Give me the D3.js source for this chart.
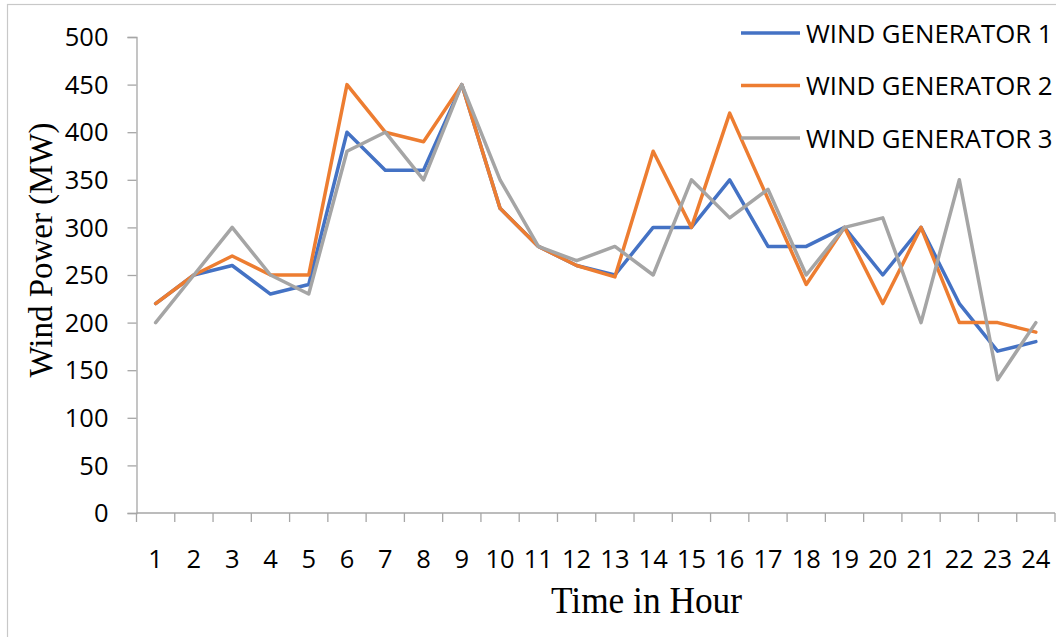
<!DOCTYPE html>
<html>
<head>
<meta charset="utf-8">
<script src="https://cdn.jsdelivr.net/npm/d3@7"></script>
<style>
	body { margin: 0; background: #fff; }
	svg { display: block; }
</style>
</head>
<body>
<svg id="chart" width="1056" height="637"></svg>
<script>
const hours = d3.range(1, 25)
const yTicks = [0, 50, 100, 150, 200, 250, 300, 350, 400, 450, 500]

const gen1 = [220, 250, 260, 230, 240, 400, 360, 360, 450, 320, 280, 260, 250, 300, 300, 350, 280, 280, 300, 250, 300, 220, 170, 180]
const gen2 = [220, 250, 270, 250, 250, 450, 400, 390, 450, 320, 280, 260, 248, 380, 300, 420, 330, 240, 300, 220, 300, 200, 200, 190]
const gen3 = [200, 250, 300, 250, 230, 380, 400, 350, 450, 350, 280, 265, 280, 250, 350, 310, 340, 250, 300, 310, 200, 350, 140, 200]

const seriesNames = ["WIND GENERATOR 1", "WIND GENERATOR 2", "WIND GENERATOR 3"]
const seriesColors = ["#4472C4", "#ED7D31", "#A5A5A5"]

const series = [gen1, gen2, gen3].map((vals, i) => ({
	name: seriesNames[i],
	color: seriesColors[i],
	values: vals.map((v, j) => ({ hour: hours[j], value: v }))
}))

const svg = d3.select("#chart")

// outer frame of the chart area (runs off the right edge)
svg.append("rect")
	.attr("x", 7.5).attr("y", 4.5)
	.attr("width", 1100).attr("height", 700)
	.attr("fill", "none")
	.attr("stroke", "#c8c8c8")
	.attr("stroke-width", 1.2)

const x = d3.scaleBand().domain(hours).range([136.5, 1055]).paddingInner(0).paddingOuter(0)
const y = d3.scaleLinear().domain([0, 500]).range([513, 37])

const axisColor = "#a6a6a6"
const tickFont = 25.5

// y axis
const yAxis = svg.append("g")
	.attr("transform", "translate(136.5,0)")
	.call(d3.axisLeft(y).tickValues(yTicks).tickSize(9).tickPadding(19))
yAxis.select(".domain").attr("stroke", axisColor).attr("stroke-width", 1.3)
yAxis.selectAll(".tick line").attr("stroke", axisColor).attr("stroke-width", 1.3)
yAxis.selectAll(".tick text")
	.attr("font-family", "'Open Sans', sans-serif")
	.attr("font-size", tickFont)
	.attr("fill", "#000")
	.attr("dy", "0.34em")

// x axis: ticks sit on the band boundaries, labels in the band centres
const xAxis = svg.append("g").attr("transform", "translate(0,513)")
xAxis.append("line")
	.attr("x1", x.range()[0]).attr("x2", x.range()[1])
	.attr("stroke", axisColor).attr("stroke-width", 1.3)
xAxis.selectAll("line.tick")
	.data(hours.concat([null]))
	.join("line")
		.classed("tick", true)
		.attr("x1", d => d === null ? x.range()[1] : x(d))
		.attr("x2", d => d === null ? x.range()[1] : x(d))
		.attr("y1", 0).attr("y2", 9)
		.attr("stroke", axisColor).attr("stroke-width", 1.3)
xAxis.selectAll("text")
	.data(hours)
	.join("text")
		.attr("x", d => x(d) + x.bandwidth() / 2)
		.attr("y", 55)
		.attr("text-anchor", "middle")
		.attr("font-family", "'Open Sans', sans-serif")
		.attr("font-size", tickFont)
		.attr("fill", "#000")
		.text(d => d)

// axis titles
svg.append("text")
	.attr("transform", "translate(52,250) rotate(-90)")
	.attr("text-anchor", "middle")
	.attr("font-family", "'Liberation Serif', 'Times New Roman', serif")
	.attr("font-size", 34)
	.attr("textLength", 255)
	.attr("lengthAdjust", "spacingAndGlyphs")
	.text("Wind Power (MW)")

svg.append("text")
	.attr("x", 646.5).attr("y", 613)
	.attr("text-anchor", "middle")
	.attr("font-family", "'Liberation Serif', 'Times New Roman', serif")
	.attr("font-size", 38)
	.attr("textLength", 191)
	.attr("lengthAdjust", "spacingAndGlyphs")
	.text("Time in Hour")

// lines
const line = d3.line()
	.x(d => x(d.hour) + x.bandwidth() / 2)
	.y(d => y(d.value))

svg.append("g")
	.selectAll("path")
	.data(series)
	.join("path")
		.attr("d", s => line(s.values))
		.attr("fill", "none")
		.attr("stroke", s => s.color)
		.attr("stroke-width", 3.5)
		.attr("stroke-linejoin", "round")
		.attr("stroke-linecap", "round")

// legend
const legend = svg.append("g")
	.selectAll("g")
	.data(series)
	.join("g")
		.attr("transform", (s, i) => `translate(741,${33 + i * 52.5})`)
legend.append("line")
	.attr("x1", 0).attr("x2", 59)
	.attr("stroke", s => s.color)
	.attr("stroke-width", 3.5)
legend.append("text")
	.attr("x", 65).attr("y", 9.5)
	.attr("font-family", "'Open Sans', sans-serif")
	.attr("font-size", 25.8)
	.attr("fill", "#000")
	.text(s => s.name)
</script>
</body>
</html>
